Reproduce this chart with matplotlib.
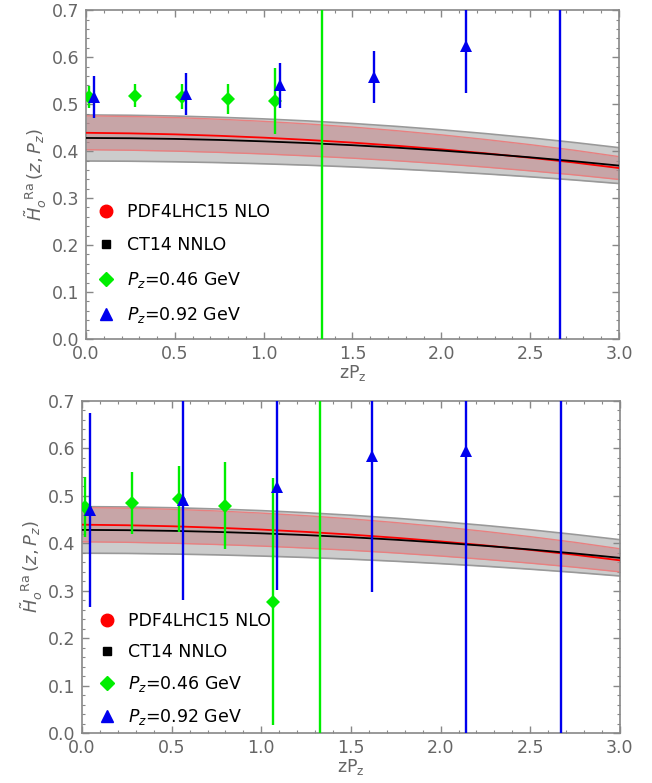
import numpy as np
import matplotlib
matplotlib.use('Agg')
from matplotlib import pyplot as plt
from matplotlib.ticker import MultipleLocator
from matplotlib.lines import Line2D

# theory curves (PDF bands), same in both panels
zpz_curve = [0.0, 0.25, 0.5, 0.75, 1.0, 1.25, 1.5, 1.75, 2.0, 2.25, 2.5, 2.75, 3.0]
pdf4lhc_mid = [0.439, 0.4378, 0.4357, 0.4326, 0.4287, 0.4238, 0.4181, 0.4114, 0.4038, 0.3953, 0.3859, 0.3756, 0.364]
pdf4lhc_err = [0.036, 0.0359, 0.0357, 0.0353, 0.0347, 0.0340, 0.0331, 0.0320, 0.0308, 0.0294, 0.0279, 0.0262, 0.0243]
ct14_mid = [0.428, 0.4274, 0.4260, 0.4238, 0.4208, 0.4171, 0.4126, 0.4073, 0.4012, 0.3944, 0.3868, 0.3784, 0.3692]
ct14_err = [0.049, 0.0489, 0.0487, 0.0483, 0.0478, 0.0471, 0.0463, 0.0453, 0.0442, 0.0429, 0.0415, 0.0399, 0.0382]

# lattice data
x_046 = [0.015, 0.277, 0.54, 0.80, 1.065, 1.326]
x_092 = [0.043, 0.565, 1.09, 1.62, 2.14, 2.67]

# top panel
top_046 = [0.515, 0.518, 0.516, 0.511, 0.506, 0.9]
top_046_err = [0.024, 0.025, 0.027, 0.032, 0.07, 1.5]
top_092 = [0.515, 0.521, 0.540, 0.558, 0.624, -0.3]
top_092_err = [0.045, 0.045, 0.048, 0.055, 0.10, 1.5]

# bottom panel
bot_046 = [0.476, 0.484, 0.493, 0.479, 0.277, 0.9]
bot_046_err = [0.063, 0.065, 0.07, 0.092, 0.26, 1.5]
bot_092 = [0.470, 0.490, 0.519, 0.583, 0.595, -0.3]
bot_092_err = [0.205, 0.21, 0.217, 0.285, 0.75, 1.5]

labels = ['PDF4LHC15 NLO', 'CT14 NNLO', r'$P_z$=0.46 GeV', r'$P_z$=0.92 GeV']

green = '#00ee00'
blue = '#0000ee'
gray_txt = '#666666'


def draw_panel(ax, y046, e046, y092, e092, leg_anchor, leg_space):
    x = np.array(zpz_curve)
    cm, ce = np.array(ct14_mid), np.array(ct14_err)
    pm, pe = np.array(pdf4lhc_mid), np.array(pdf4lhc_err)
    ax.fill_between(x, cm - ce, cm + ce, color='#cccccc', lw=0, zorder=1)
    ax.plot(x, cm + ce, color='#999999', lw=1.2, zorder=1.5)
    ax.plot(x, cm - ce, color='#999999', lw=1.2, zorder=1.5)
    ax.fill_between(x, pm - pe, pm + pe, color='#c4868a', alpha=0.55, lw=0, zorder=2)
    ax.plot(x, pm + pe, color='#e88080', lw=1.0, zorder=2.5)
    ax.plot(x, pm - pe, color='#e88080', lw=1.0, zorder=2.5)
    ax.plot(x, pm, color='#ff0000', lw=1.3, zorder=3)
    ax.plot(x, cm, color='black', lw=1.3, zorder=3.2)

    ax.errorbar(x_046, y046, yerr=e046, fmt='D', color=green, ms=7, mew=0,
                elinewidth=1.7, capsize=3, capthick=1.5, zorder=4)
    ax.errorbar(x_092, y092, yerr=e092, fmt='^', color=blue, ms=9, mew=0,
                elinewidth=1.7, capsize=3, capthick=1.5, zorder=5)

    ax.set_xlim(0, 3.0)
    ax.set_ylim(0, 0.7)
    ax.xaxis.set_major_locator(MultipleLocator(0.5))
    ax.xaxis.set_minor_locator(MultipleLocator(0.1))
    ax.yaxis.set_major_locator(MultipleLocator(0.1))
    ax.yaxis.set_minor_locator(MultipleLocator(0.02))
    ax.xaxis.set_major_formatter(plt.FormatStrFormatter('%.1f'))
    ax.yaxis.set_major_formatter(plt.FormatStrFormatter('%.1f'))
    ax.tick_params(which='both', direction='in', top=True, right=True,
                   color='#888888', labelcolor=gray_txt, labelsize=12.5)
    ax.tick_params(axis='x', pad=4)
    ax.tick_params(axis='y', pad=5)
    ax.tick_params(which='major', length=5, width=1)
    ax.tick_params(which='minor', length=2.5, width=0.8)
    for s in ax.spines.values():
        s.set_color('#888888')
        s.set_linewidth(1.2)
    ax.set_xlabel(r'zP$_\mathrm{z}$', color=gray_txt, fontsize=12.5, labelpad=0)
    ax.set_ylabel(r'$\tilde{H}_o^{\ \ \mathrm{Ra}}\,(z,P_z)$', color=gray_txt,
                  fontsize=13, labelpad=2)

    handles = [
        Line2D([], [], ls='', marker='o', color='#ff0000', ms=9),
        Line2D([], [], ls='', marker='s', color='black', ms=6),
        Line2D([], [], ls='', marker='D', color=green, ms=7),
        Line2D([], [], ls='', marker='^', color=blue, ms=8),
    ]
    ax.legend(handles, labels, loc='lower left', bbox_to_anchor=leg_anchor,
              frameon=False, fontsize=12.5, labelspacing=leg_space,
              handletextpad=0.7, handlelength=1.0, borderaxespad=0.4)


fig = plt.figure(figsize=(6.52, 7.83), dpi=100)
ax1 = fig.add_axes([0.1319, 0.567, 0.8174, 0.420])
ax2 = fig.add_axes([0.1258, 0.0635, 0.8250, 0.4248])

draw_panel(ax1, top_046, top_046_err, top_092, top_092_err, (-0.005, -0.001), 0.9)
draw_panel(ax2, bot_046, bot_046_err, bot_092, bot_092_err, (0.004, -0.022), 0.75)

fig.savefig('out.png', dpi=100)
